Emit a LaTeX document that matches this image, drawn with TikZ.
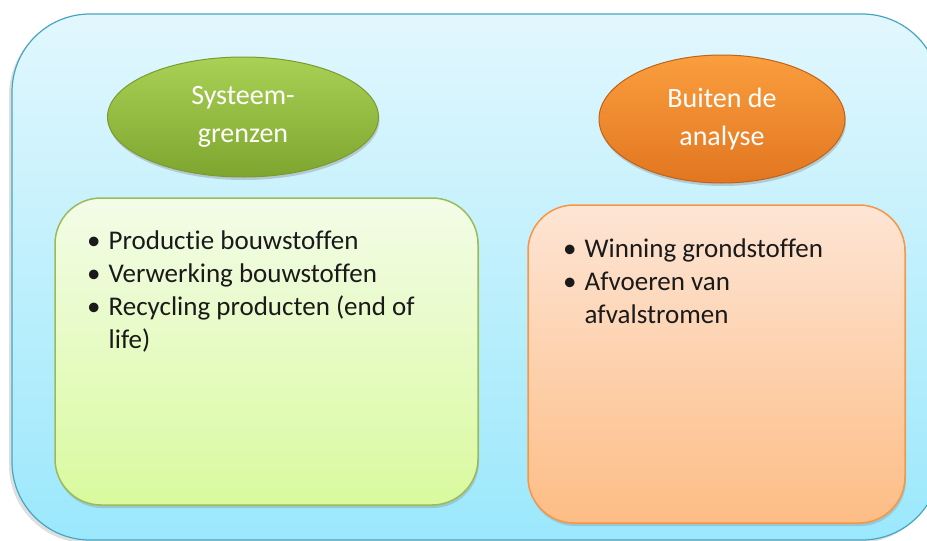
\documentclass[tikz,border=0pt]{standalone}
\usepackage{fontspec}
\setmainfont{Carlito}[Ligatures=NoCommon]
\usetikzlibrary{shapes.geometric,shadows,positioning}
\definecolor{skytop}{HTML}{E2F7FD}
\definecolor{skybot}{HTML}{9BE8FC}
\definecolor{skyline}{HTML}{46A6C1}
\definecolor{leaftop}{HTML}{A9D155}
\definecolor{leafbot}{HTML}{7EA52E}
\definecolor{leafline}{HTML}{7B9B30}
\definecolor{limetop}{HTML}{F3FCE8}
\definecolor{limebot}{HTML}{D9FA9E}
\definecolor{limeline}{HTML}{9BBB59}
\definecolor{peeltop}{HTML}{FA9E3E}
\definecolor{peelbot}{HTML}{E27620}
\definecolor{peelline}{HTML}{C0631A}
\definecolor{peachtop}{HTML}{FDE5D5}
\definecolor{peachbot}{HTML}{FDBD85}
\definecolor{peachline}{HTML}{F79646}
\definecolor{inktext}{HTML}{1A1A1A}

\begin{document}
\begin{tikzpicture}[x=1pt,y=-1pt,
  outerbox/.style={draw=skyline,line width=1.2pt,top color=skytop,bottom color=skybot,
    rounded corners=78pt,drop shadow={shadow xshift=-3pt,shadow yshift=-3pt,opacity=0.25}},
  headoval/.style={ellipse,inner sep=0pt,text=white,align=center,
    font=\fontsize{28}{38}\selectfont,line width=1pt,
    drop shadow={shadow xshift=1pt,shadow yshift=-3pt,opacity=0.35}},
  listbox/.style={rounded corners=46pt,line width=1.5pt,inner sep=0pt,
    drop shadow={shadow xshift=1pt,shadow yshift=-3pt,opacity=0.3}},
  listtext/.style={anchor=north west,inner sep=0pt,text=inktext,align=left,
    font=\fontsize{27}{33}\selectfont}]
  \useasboundingbox (0,0) rectangle (927,541);
  \clip (0,0) rectangle (927,541);
  % outer frame
  \path[outerbox] (12,14) rectangle (940,540);
  % ovals
  \node[headoval,draw=leafline,top color=leaftop,bottom color=leafbot,
    minimum width=271pt,minimum height=120pt] (sys) at (243,117) {Systeem-\\grenzen};
  \node[headoval,draw=peelline,top color=peeltop,bottom color=peelbot,
    minimum width=246pt,minimum height=128pt] (buiten) at (722,119) {Buiten de\\analyse};
  % boxes
  \node[listbox,draw=limeline,top color=limetop,bottom color=limebot,
    minimum width=423pt,minimum height=307pt] (binnen) at (266.5,351.5) {};
  \node[listbox,draw=peachline,top color=peachtop,bottom color=peachbot,
    minimum width=377pt,minimum height=318pt] (buitenbox) at (716.5,364) {};
  \node[listtext] (binnenlist) at (87,226) {%
    \begin{tabular}{@{}l@{\hspace{8pt}}l@{}}
    \textbullet & Productie bouwstoffen\\
    \textbullet & Verwerking bouwstoffen\\
    \textbullet & Recycling producten (end of\\
      & life)
    \end{tabular}};
  \node[listtext] (buitenlist) at (563,234) {%
    \begin{tabular}{@{}l@{\hspace{8pt}}l@{}}
    \textbullet & Winning grondstoffen\\
    \textbullet & Afvoeren van\\
      & afvalstromen
    \end{tabular}};
\end{tikzpicture}
\end{document}
